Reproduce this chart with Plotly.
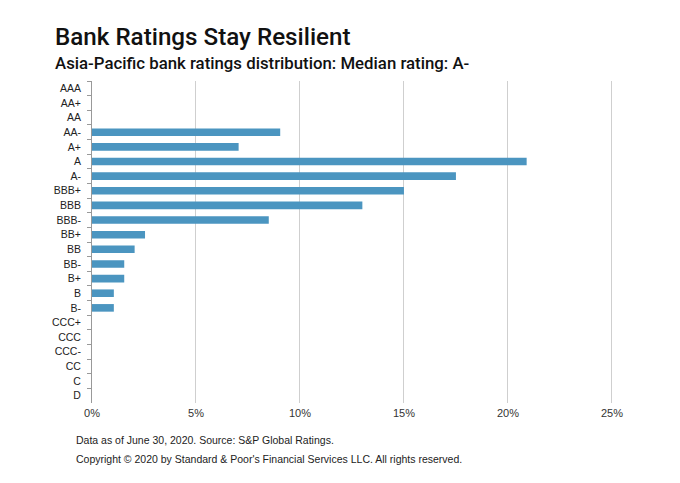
import plotly.graph_objects as go

ratings = ["AAA", "AA+", "AA", "AA-", "A+", "A", "A-", "BBB+", "BBB", "BBB-",
           "BB+", "BB", "BB-", "B+", "B", "B-", "CCC+", "CCC", "CCC-", "CC", "C", "D"]
shares = [0, 0, 0, 9.05, 7.05, 20.9, 17.5, 15.0, 13.0, 8.5,
          2.55, 2.05, 1.55, 1.55, 1.05, 1.05, 0, 0, 0, 0, 0, 0]
x_ticks = [0, 5, 10, 15, 20, 25]
x_labels = ["0%", "5%", "10%", "15%", "20%", "25%"]

W, H = 680, 483
pl, pr, pt, pb = 92, 66, 81, 80
pw, ph = W - pl - pr, H - pt - pb

def px(xp):
    return (xp - pl) / pw

def py(yp):
    return (H - pb - yp) / ph

fig = go.Figure(go.Bar(
    x=shares, y=ratings, orientation="h",
    marker=dict(color="#4b95c0", line=dict(width=0)),
    width=0.52,
))

fig.update_layout(
    width=W, height=H,
    margin=dict(l=pl, r=pr, t=pt, b=pb, autoexpand=False),
    paper_bgcolor="white", plot_bgcolor="white",
    showlegend=False,
    font=dict(family="Liberation Sans, Arial", size=11, color="#222"),
    xaxis=dict(range=[0, 25.1], tickvals=x_ticks, ticktext=x_labels,
               showgrid=True, gridcolor="#cfcfcf", gridwidth=1,
               zeroline=False, showline=False, ticks="", automargin=False,
               ticklabelstandoff=2,
               tickfont=dict(size=11, color="#333")),
    yaxis=dict(type="category", categoryorder="array", categoryarray=ratings,
               autorange="reversed", showgrid=False, zeroline=False,
               showline=True, linecolor="#999", linewidth=1, automargin=False,
               ticks="outside", ticklen=4, tickcolor="#999", tickson="boundaries",
               ticklabelstandoff=8,
               tickfont=dict(size=10.5, color="#222")),
)

fig.add_annotation(text="Bank Ratings Stay Resilient", x=px(53), y=py(37),
                   xref="paper", yref="paper", showarrow=False,
                   xanchor="left", yanchor="middle",
                   font=dict(family="Roboto", size=24.2, color="#111", weight=500))
fig.add_annotation(text="Asia-Pacific bank ratings distribution: Median rating: A-", x=px(53), y=py(63),
                   xref="paper", yref="paper", showarrow=False,
                   xanchor="left", yanchor="middle",
                   font=dict(family="Roboto", size=16.8, color="#111", weight=500))
fig.add_annotation(text="Data as of June 30, 2020. Source: S&P Global Ratings.", x=px(74), y=py(440),
                   xref="paper", yref="paper", showarrow=False,
                   xanchor="left", yanchor="middle",
                   font=dict(family="Liberation Sans", size=10.5, color="#222"))
fig.add_annotation(text="Copyright © 2020 by Standard &amp; Poor's Financial Services LLC. All rights reserved.",
                   x=px(74), y=py(459),
                   xref="paper", yref="paper", showarrow=False,
                   xanchor="left", yanchor="middle",
                   font=dict(family="Liberation Sans", size=10.5, color="#222"))

fig.write_html("out.html", config={"displayModeBar": False},
               post_script="document.body.style.margin='0';document.body.style.overflow='hidden';")
